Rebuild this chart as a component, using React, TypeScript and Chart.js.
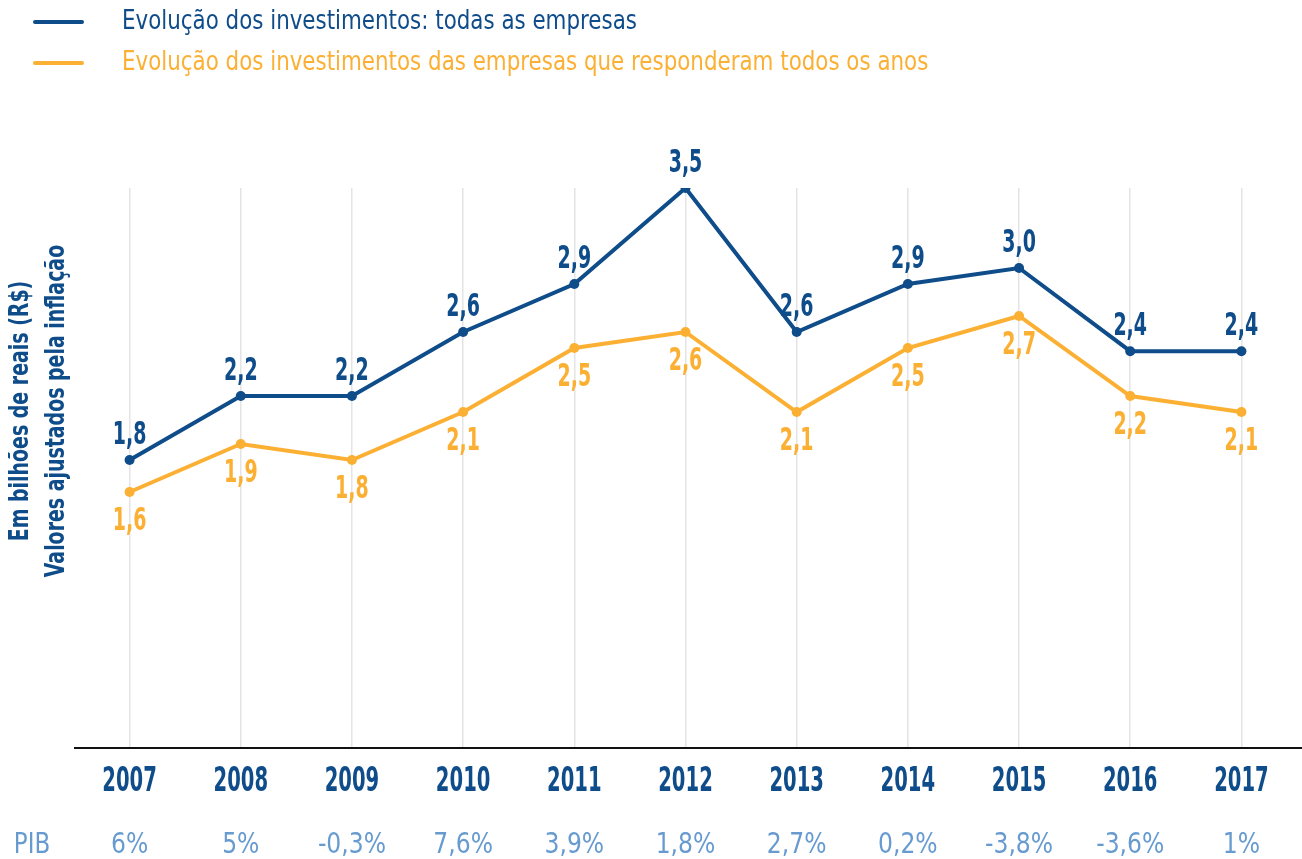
import React, { useEffect, useRef } from "react";
import { Chart, registerables } from "chart.js";

Chart.register(...registerables);

const years = ["2007", "2008", "2009", "2010", "2011", "2012", "2013", "2014", "2015", "2016", "2017"];
const allCompanies = [1.8, 2.2, 2.2, 2.6, 2.9, 3.5, 2.6, 2.9, 3.0, 2.48, 2.48];
const sameCompanies = [1.6, 1.9, 1.8, 2.1, 2.5, 2.6, 2.1, 2.5, 2.7, 2.2, 2.1];
const pibValues = ["6%", "5%", "-0,3%", "7,6%", "3,9%", "1,8%", "2,7%", "0,2%", "-3,8%", "-3,6%", "1%"];
const pibLabel = "PIB";
const seriesNames = [
  "Evolução dos investimentos: todas as empresas",
  "Evolução dos investimentos das empresas que responderam todos os anos",
];
const yTitleLines = ["Em bilhões de reais (R$)", "Valores ajustados pela inflação"];

const BLUE = "#0f4c8a";
const ORANGE = "#fbb034";
const PIB_COLOR = "#679bd0";
const FF = "'DejaVu Sans Condensed', 'Liberation Sans Narrow', sans-serif";

const fmt = (v: number) => (Math.floor(v * 10 + 1e-6) / 10).toFixed(1).replace(".", ",");

function txt(
  ctx: CanvasRenderingContext2D,
  s: string,
  x: number,
  y: number,
  font: string,
  sx: number,
  align: CanvasTextAlign,
  rot = 0
) {
  ctx.save();
  ctx.font = font;
  ctx.textAlign = align;
  ctx.translate(x, y);
  if (rot) ctx.rotate(rot);
  ctx.scale(sx, 1);
  ctx.fillText(s, 0, 0);
  ctx.restore();
}

const overlay = {
  id: "overlay",
  afterDraw(chart: any) {
    const ctx = chart.ctx as CanvasRenderingContext2D;
    const x = chart.scales.x;
    const y = chart.scales.y;
    ctx.save();

    // x axis baseline
    ctx.strokeStyle = "#111";
    ctx.lineWidth = 2;
    ctx.beginPath();
    ctx.moveTo(74, y.getPixelForValue(0));
    ctx.lineTo(1302, y.getPixelForValue(0));
    ctx.stroke();

    ctx.textBaseline = "alphabetic";

    // year labels
    ctx.fillStyle = BLUE;
    years.forEach((yr, i) => txt(ctx, yr, x.getPixelForValue(i), 791, `bold 33px ${FF}`, 0.66, "center"));

    // PIB row
    ctx.fillStyle = PIB_COLOR;
    txt(ctx, pibLabel, 32, 853, `29px ${FF}`, 0.88, "center");
    pibValues.forEach((p, i) => txt(ctx, p, x.getPixelForValue(i), 853, `29px ${FF}`, 0.9, "center"));

    // data labels
    const m0 = chart.getDatasetMeta(0);
    const m1 = chart.getDatasetMeta(1);
    ctx.fillStyle = BLUE;
    m0.data.forEach((pt: any, i: number) =>
      txt(ctx, fmt(allCompanies[i]), pt.x, pt.y - 16, `bold 32px ${FF}`, 0.66, "center")
    );
    ctx.fillStyle = ORANGE;
    m1.data.forEach((pt: any, i: number) =>
      txt(ctx, fmt(sameCompanies[i]), pt.x, pt.y + 38, `bold 32px ${FF}`, 0.66, "center")
    );

    // legend
    const legendColors = [BLUE, ORANGE];
    const legendY = [22, 63];
    ctx.lineCap = "round";
    ctx.lineWidth = 4;
    ctx.textBaseline = "middle";
    seriesNames.forEach((name, i) => {
      ctx.strokeStyle = legendColors[i];
      ctx.beginPath();
      ctx.moveTo(35, legendY[i]);
      ctx.lineTo(82, legendY[i]);
      ctx.stroke();
      ctx.fillStyle = legendColors[i];
      txt(ctx, name, 122, legendY[i], `26px ${FF}`, 0.915, "left");
    });

    // y title
    ctx.fillStyle = BLUE;
    const cx = [21, 57];
    yTitleLines.forEach((t, i) => txt(ctx, t, cx[i], 411, `bold 26px ${FF}`, 0.81, "center", -Math.PI / 2));

    ctx.restore();
  },
};

export default function App() {
  const ref = useRef<HTMLCanvasElement | null>(null);
  useEffect(() => {
    document.body.style.margin = "0";
    if (!ref.current) return;
    const chart = new Chart(ref.current, {
      type: "line",
      data: {
        labels: years,
        datasets: [
          {
            label: seriesNames[0],
            data: allCompanies,
            borderColor: BLUE,
            backgroundColor: BLUE,
            borderWidth: 4,
            pointRadius: 5,
            pointBorderWidth: 0,
            tension: 0,
          },
          {
            label: seriesNames[1],
            data: sameCompanies,
            borderColor: ORANGE,
            backgroundColor: ORANGE,
            borderWidth: 4,
            pointRadius: 5,
            pointBorderWidth: 0,
            tension: 0,
          },
        ],
      },
      options: {
        animation: false,
        responsive: false,
        layout: { padding: { left: 74, right: 5, top: 188, bottom: 111 } },
        plugins: { legend: { display: false }, tooltip: { enabled: false } },
        scales: {
          x: {
            type: "category",
            offset: true,
            grid: { offset: false, color: "#e4e4e4", lineWidth: 1.5, drawTicks: false },
            border: { display: false },
            ticks: { display: false },
          },
          y: { display: false, min: 0, max: 3.5 },
        },
      },
      plugins: [overlay],
    });
    return () => chart.destroy();
  }, []);
  return (
    <div style={{ width: 1302, height: 859, background: "#fff" }}>
      <canvas ref={ref} width={1302} height={859} style={{ display: "block" }} />
    </div>
  );
}
